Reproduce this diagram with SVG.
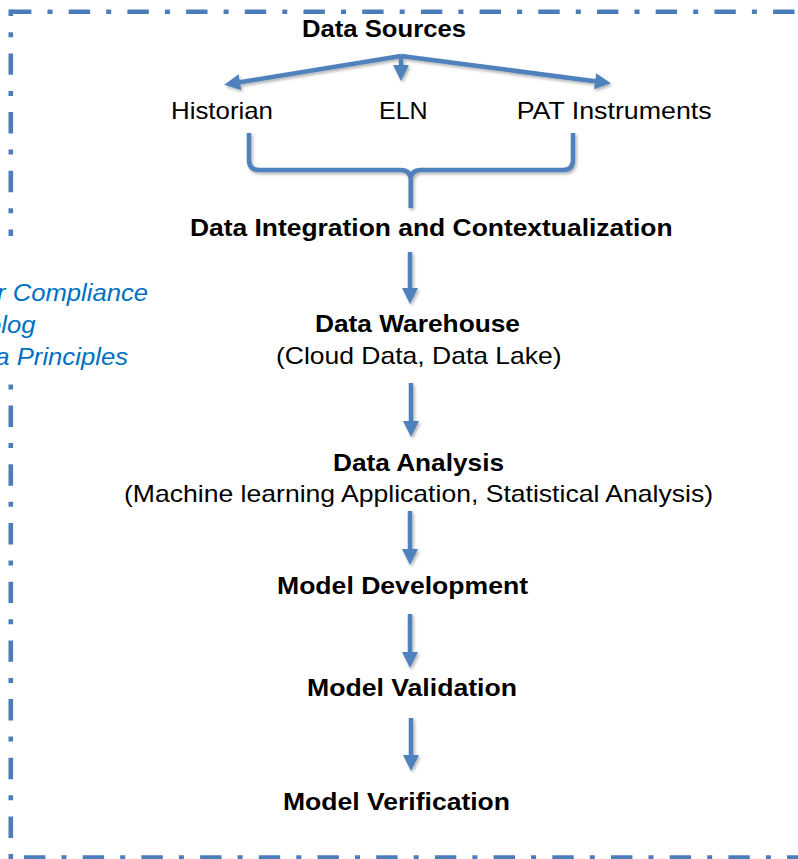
<svg xmlns="http://www.w3.org/2000/svg" width="798" height="859" viewBox="0 0 798 859">
  <style>
    .lbl { font-family: "Liberation Sans", Arial, sans-serif; font-size: 24px; fill: #000; text-anchor: middle; }
    .b { font-weight: bold; }
    .note { font-family: "Liberation Sans", Arial, sans-serif; font-size: 24px; font-style: italic; fill: #0070C0; }
    .frame { stroke: #4A7DBA; stroke-width: 4.6; fill: none; stroke-dasharray: 21.4 16.1 5 16.2; }
    .conn { stroke: #4F81BD; stroke-width: 4.5; fill: none; }
  </style>
  <defs>
    <filter id="shadow" x="-50%" y="-50%" width="200%" height="200%">
      <feDropShadow dx="1.5" dy="2" stdDeviation="1.5" flood-color="#000" flood-opacity="0.3"/>
    </filter>
    <marker id="head" viewBox="0 0 16 16" refX="2" refY="8" markerWidth="16" markerHeight="16" markerUnits="userSpaceOnUse" orient="auto">
      <path d="M0,0 L16,8 L0,16 Z" fill="#4F81BD"/>
    </marker>
  </defs>

  <!-- dash-dot frame (right edge lies outside the canvas) -->
  <g id="frame">
    <line class="frame" x1="10" y1="11.7" x2="800" y2="11.7"/>
    <line class="frame" x1="10.8" y1="9.4" x2="10.8" y2="860" stroke-dashoffset="14.7"/>
    <line class="frame" x1="10" y1="857.5" x2="800" y2="857.5" stroke-dashoffset="-14"/>
  </g>

  <!-- side notes in a white box, clipped by the left edge -->
  <g id="notes">
    <rect x="-10" y="236" width="165" height="146" fill="#fff"/>
    <text class="note" x="-3" y="300.5" textLength="151" lengthAdjust="spacingAndGlyphs">r Compliance</text>
    <text class="note" x="-13" y="332.5" textLength="48.5" lengthAdjust="spacingAndGlyphs">olog</text>
    <text class="note" x="-4.7" y="364.5" textLength="132.7" lengthAdjust="spacingAndGlyphs">a Principles</text>
  </g>

  <g id="data-sources"><text class="lbl b" x="384" y="37" textLength="164" lengthAdjust="spacingAndGlyphs">Data Sources</text></g>
  <g id="historian"><text class="lbl" x="222" y="119" textLength="102" lengthAdjust="spacingAndGlyphs">Historian</text></g>
  <g id="eln"><text class="lbl" x="403.3" y="119" textLength="48.7" lengthAdjust="spacingAndGlyphs">ELN</text></g>
  <g id="pat"><text class="lbl" x="614.2" y="119" textLength="195" lengthAdjust="spacingAndGlyphs">PAT Instruments</text></g>
  <g id="integration"><text class="lbl b" x="431.3" y="236" textLength="482.7" lengthAdjust="spacingAndGlyphs">Data Integration and Contextualization</text></g>
  <g id="warehouse">
    <text class="lbl b" x="417.5" y="332" textLength="205" lengthAdjust="spacingAndGlyphs">Data Warehouse</text>
    <text class="lbl" x="418.8" y="364" textLength="285.7" lengthAdjust="spacingAndGlyphs">(Cloud Data, Data Lake)</text>
  </g>
  <g id="analysis">
    <text class="lbl b" x="418.5" y="471" textLength="171" lengthAdjust="spacingAndGlyphs">Data Analysis</text>
    <text class="lbl" x="418.5" y="502" textLength="589" lengthAdjust="spacingAndGlyphs">(Machine learning Application, Statistical Analysis)</text>
  </g>
  <g id="development"><text class="lbl b" x="402.5" y="594" textLength="251" lengthAdjust="spacingAndGlyphs">Model Development</text></g>
  <g id="validation"><text class="lbl b" x="412" y="696" textLength="210" lengthAdjust="spacingAndGlyphs">Model Validation</text></g>
  <g id="verification"><text class="lbl b" x="396.5" y="810" textLength="227" lengthAdjust="spacingAndGlyphs">Model Verification</text></g>

  <!-- connectors -->
  <g id="connectors" filter="url(#shadow)">
    <line class="conn" x1="401" y1="56" x2="238" y2="82.5" marker-end="url(#head)"/>
    <line class="conn" x1="401" y1="56" x2="597" y2="81.5" marker-end="url(#head)"/>
    <line class="conn" x1="401" y1="56" x2="401" y2="67" marker-end="url(#head)"/>
    <path class="conn" d="M249,133 V160 Q249,170 259,170 H400.5 Q410.7,170 410.7,180 V208 M410.7,180 Q410.7,170 421,170 H563 Q573,170 573,160 V133"/>
    <line class="conn" x1="410" y1="252" x2="410" y2="290" marker-end="url(#head)"/>
    <line class="conn" x1="411" y1="383" x2="411" y2="423" marker-end="url(#head)"/>
    <line class="conn" x1="410" y1="511" x2="410" y2="551" marker-end="url(#head)"/>
    <line class="conn" x1="410" y1="614" x2="410" y2="654" marker-end="url(#head)"/>
    <line class="conn" x1="411" y1="718" x2="411" y2="757" marker-end="url(#head)"/>
  </g>
</svg>
